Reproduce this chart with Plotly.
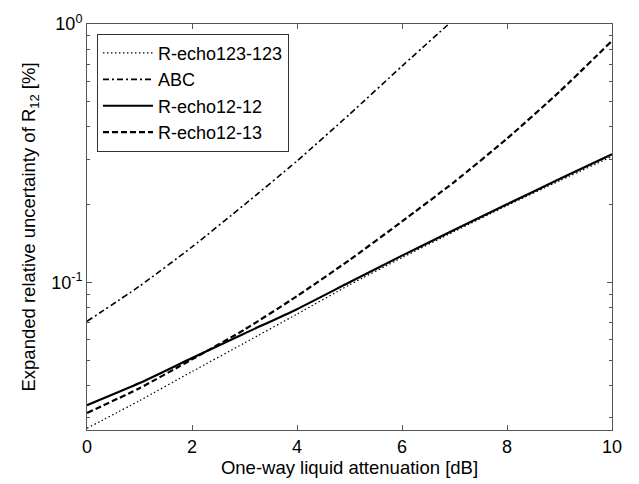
import numpy as np
import plotly.graph_objects as go

# One-way liquid attenuation [dB]
atten = [0, 1, 2, 3, 4, 5, 6, 7, 8, 9, 10]
atten_abc = [0, 1, 2, 3, 4, 5, 6, 7]

# Expanded relative uncertainty [%]
r_echo123_123 = [0.0272, 0.0348, 0.0451, 0.0582, 0.0753, 0.0977, 0.1245, 0.1574, 0.198, 0.247, 0.307]
abc = [0.0706, 0.0966, 0.137, 0.200, 0.295, 0.447, 0.687, 1.047]
r_echo12_12 = [0.0334, 0.0407, 0.0509, 0.0634, 0.0787, 0.100, 0.1268, 0.1596, 0.2004, 0.251, 0.313]
r_echo12_13 = [0.0312, 0.0389, 0.0503, 0.0656, 0.0884, 0.122, 0.172, 0.245, 0.360, 0.547, 0.861]

x_ticks = [0, 2, 4, 6, 8, 10]
y_ticks = [0.1, 1]
y_ticktext = ["10<sup>-1</sup>", "10<sup>0</sup>"]
y_minor = [0.03, 0.04, 0.05, 0.06, 0.07, 0.08, 0.09, 0.2, 0.3, 0.4, 0.5, 0.6, 0.7, 0.8, 0.9]

FONT = "Liberation Sans, Arial, Helvetica, sans-serif"
AX = "#555"

fig = go.Figure()
fig.add_trace(go.Scatter(x=atten, y=r_echo123_123, mode="lines", name="R-echo123-123",
                         line=dict(color="black", width=1.2, dash="1.5px,2.5px", shape="spline", smoothing=0.6)))
fig.add_trace(go.Scatter(x=atten_abc, y=abc, mode="lines", name="ABC",
                         line=dict(color="black", width=1.6, dash="6px,3px,2px,3px", shape="spline", smoothing=0.6)))
fig.add_trace(go.Scatter(x=atten, y=r_echo12_12, mode="lines", name="R-echo12-12",
                         line=dict(color="black", width=2.2, shape="spline", smoothing=0.6)))
fig.add_trace(go.Scatter(x=atten, y=r_echo12_13, mode="lines", name="R-echo12-13",
                         line=dict(color="black", width=2.2, dash="6px,3px", shape="spline", smoothing=0.6)))

fig.update_layout(
    width=639, height=484,
    margin=dict(l=87, r=27, t=20, b=51),
    paper_bgcolor="white", plot_bgcolor="white",
    font=dict(family=FONT, size=18, color="black"),
    showlegend=True,
    legend=dict(x=0.019, y=0.976, xanchor="left", yanchor="top",
                bordercolor="#333", borderwidth=1, bgcolor="white",
                font=dict(size=18), itemwidth=50, tracegroupgap=0),
    xaxis=dict(range=[0, 10], tickvals=x_ticks, ticks="inside", ticklen=5,
               showline=True, linecolor=AX, linewidth=1, mirror="ticks",
               showgrid=False, zeroline=False, tickcolor=AX,
               tickfont=dict(size=18),
               title=dict(text="One-way liquid attenuation [dB]", standoff=2,
                          font=dict(size=18.5))),
    yaxis=dict(type="log", range=[-1.572, 0], tickvals=y_ticks, ticktext=y_ticktext,
               ticks="inside", ticklen=5, tickcolor=AX,
               showline=True, linecolor=AX, linewidth=1, mirror="ticks",
               showgrid=False, zeroline=False, tickfont=dict(size=18),
               minor=dict(tickvals=y_minor, ticks="inside", ticklen=3, tickcolor=AX, showgrid=False),
               title=dict(text="Expanded relative uncertainty of R<sub>12</sub> [%]", standoff=10,
                          font=dict(size=18.5))),
)

fig.write_html("out.html")
